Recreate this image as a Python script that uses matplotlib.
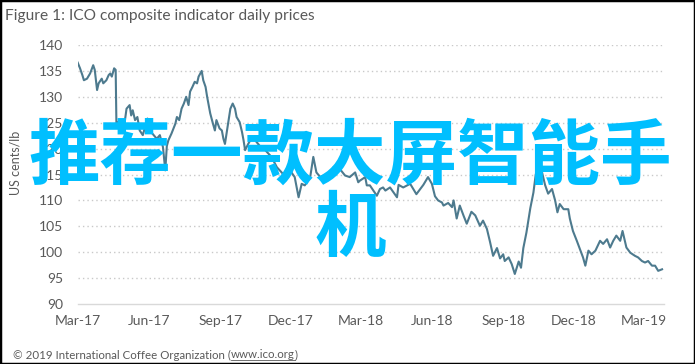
import matplotlib
matplotlib.use("Agg")
import matplotlib.pyplot as plt
import matplotlib.dates as mdates
import pandas as pd
from matplotlib.patches import Rectangle

# ---- data ----
dates = [
    "2017-03-01", "2017-03-04", "2017-03-07", "2017-03-09", "2017-03-13", "2017-03-17",
    "2017-03-21", "2017-03-23", "2017-03-26", "2017-03-28", "2017-04-01", "2017-04-03",
    "2017-04-07", "2017-04-10", "2017-04-12", "2017-04-14", "2017-04-17", "2017-04-19",
    "2017-04-20", "2017-04-22", "2017-04-27", "2017-05-01", "2017-05-03", "2017-05-07",
    "2017-05-09", "2017-05-11", "2017-05-14", "2017-05-17", "2017-05-20", "2017-05-24",
    "2017-05-27", "2017-05-30", "2017-06-02", "2017-06-07", "2017-06-11", "2017-06-15",
    "2017-06-19", "2017-06-22", "2017-06-24", "2017-06-26", "2017-06-30", "2017-07-05",
    "2017-07-07", "2017-07-10", "2017-07-13", "2017-07-16", "2017-07-19", "2017-07-22",
    "2017-07-24", "2017-07-27", "2017-07-30", "2017-08-02", "2017-08-04", "2017-08-08",
    "2017-08-10", "2017-08-13", "2017-08-15", "2017-08-19", "2017-08-22", "2017-08-25",
    "2017-08-27", "2017-08-31", "2017-09-03", "2017-09-05", "2017-09-07", "2017-09-09",
    "2017-09-11", "2017-09-14", "2017-09-17", "2017-09-20", "2017-09-22", "2017-09-26",
    "2017-09-29", "2017-10-01", "2017-10-03", "2017-10-07", "2017-10-12", "2017-10-16",
    "2017-10-22", "2017-10-29", "2017-11-06", "2017-11-13", "2017-11-21", "2017-11-30",
    "2017-12-06", "2017-12-11", "2017-12-15", "2017-12-19", "2017-12-26", "2017-12-30",
    "2018-01-03", "2018-01-08", "2018-01-12", "2018-01-18", "2018-01-25", "2018-02-02",
    "2018-02-09", "2018-02-15", "2018-02-22", "2018-02-26", "2018-02-28", "2018-03-07",
    "2018-03-09", "2018-03-13", "2018-03-22", "2018-03-26", "2018-03-30", "2018-04-02",
    "2018-04-08", "2018-04-17", "2018-04-19", "2018-04-25", "2018-05-04", "2018-05-12",
    "2018-05-21", "2018-05-27", "2018-06-01", "2018-06-05", "2018-06-09", "2018-06-14",
    "2018-06-16", "2018-06-22", "2018-06-27", "2018-06-29", "2018-07-03", "2018-07-07",
    "2018-07-12", "2018-07-16", "2018-07-22", "2018-07-27", "2018-08-02", "2018-08-06",
    "2018-08-11", "2018-08-15", "2018-08-19", "2018-08-24", "2018-08-28", "2018-09-01",
    "2018-09-03", "2018-09-08", "2018-09-12", "2018-09-16", "2018-09-21", "2018-09-24",
    "2018-09-27", "2018-10-01", "2018-10-06", "2018-10-10", "2018-10-13", "2018-10-17",
    "2018-10-21", "2018-10-25", "2018-10-29", "2018-11-03", "2018-11-07", "2018-11-10",
    "2018-11-13", "2018-11-18", "2018-11-24", "2018-11-26", "2018-11-30", "2018-12-05",
    "2018-12-09", "2018-12-13", "2018-12-16", "2018-12-20", "2018-12-24", "2018-12-29",
    "2019-01-04", "2019-01-08", "2019-01-13", "2019-01-17", "2019-01-21", "2019-01-25",
    "2019-01-30", "2019-02-02", "2019-02-07", "2019-02-12", "2019-02-18", "2019-02-22",
    "2019-02-27", "2019-03-03", "2019-03-07", "2019-03-12", "2019-03-16", "2019-03-20",
    "2019-03-25",
]
prices = [
    136.6, 135.5, 134.2, 133.2, 133.5, 134.5,
    136.1, 135.2, 131.3, 132.6, 133.5, 132.6,
    133.2, 134.2, 134.5, 133.9, 135.5, 135.2,
    124.2, 125.1, 123.5, 125.5, 127.7, 128.4,
    126.4, 127.4, 125.5, 126.1, 123.5, 122.6,
    124.2, 125.8, 123.5, 122.6, 121.9, 122.6,
    120.3, 115.8, 120.5, 121.6, 122.9, 124.8,
    126.1, 125.5, 127.7, 128.7, 130.0, 128.4,
    131.0, 131.9, 132.9, 132.6, 133.9, 135.0,
    133.2, 131.9, 130.0, 126.8, 125.1, 123.5,
    125.5, 123.9, 123.5, 121.9, 120.9, 122.9,
    124.8, 127.7, 128.7, 127.7, 126.1, 125.1,
    123.2, 121.6, 119.7, 120.9, 122.2, 121.6,
    120.5, 119.7, 118.4, 116.4, 115.1, 115.8,
    114.5, 110.6, 113.2, 112.9, 114.5, 118.4,
    115.4, 114.5, 114.8, 115.1, 116.4, 116.1,
    114.8, 114.5, 115.4, 113.5, 113.8, 114.5,
    112.9, 112.9, 110.9, 112.2, 112.5, 111.9,
    112.5, 110.6, 113.0, 112.5, 113.2, 111.2,
    113.0, 114.5, 113.2, 110.8, 110.0, 109.6,
    109.0, 109.5, 108.7, 110.0, 106.5, 109.0,
    107.0, 105.5, 107.8, 107.1, 105.1, 106.1,
    104.5, 102.0, 99.3, 100.8, 98.8, 99.6,
    98.3, 99.0, 97.7, 95.8, 98.2, 97.0,
    100.8, 103.8, 108.5, 111.5, 115.0, 117.0,
    115.5, 113.0, 111.3, 112.2, 110.0, 107.7,
    109.3, 108.3, 108.3, 106.5, 104.1, 102.2,
    100.6, 99.0, 97.4, 100.3, 99.6, 100.3,
    102.2, 101.6, 102.5, 100.9, 102.2, 103.2,
    102.2, 104.1, 100.9, 99.9, 99.3, 99.0,
    98.3, 98.0, 98.3, 97.4, 97.4, 96.4,
    96.7,
]
y_ticks = [90, 95, 100, 105, 110, 115, 120, 125, 130, 135, 140]
x_tick_dates = ["2017-03-01", "2017-06-01", "2017-09-01", "2017-12-01", "2018-03-01",
                "2018-06-01", "2018-09-01", "2018-12-01", "2019-03-01"]
title = "Figure 1: ICO composite indicator daily prices"
y_label = "US cents/lb"
footer_a = "\u00a9 2019 International Coffee Organization ("
footer_link = "www.ico.org"
footer_b = ")"
watermark = "推荐一款大屏智能手\n机"

# ---- style ----
TXT = "#595959"
LINE = "#4d7a8e"
W, H = 695, 364

plt.rcParams["font.family"] = ["Lato", "DejaVu Sans"]
fig = plt.figure(figsize=(W / 100, H / 100), dpi=100)
fig.patch.set_facecolor("white")

ax = fig.add_axes([77.7 / W, 1 - 304 / H, (664 - 77.7) / W, (304 - 45) / H])
x = pd.to_datetime(dates)
ax.plot(x, prices, color=LINE, lw=1.5, solid_joinstyle="round", zorder=3)

ax.set_ylim(90, 140)
ax.set_yticks(y_ticks)
ax.set_xlim(pd.Timestamp("2017-03-01"), pd.Timestamp("2019-03-27 12:00"))
ax.set_xticks(pd.to_datetime(x_tick_dates))
ax.xaxis.set_major_formatter(mdates.DateFormatter("%b-%y"))

for v in y_ticks[1:]:
    ax.axhline(v, color="#c9c9c9", lw=1.0, linestyle=(0, (1, 2.2)), zorder=1)
for s in ["top", "right", "left"]:
    ax.spines[s].set_visible(False)
ax.spines["bottom"].set_color("#d9d9d9")
ax.spines["bottom"].set_linewidth(1.0)
ax.tick_params(axis="both", length=0, colors=TXT, labelsize=10)
ax.tick_params(axis="y", pad=10.5)
ax.tick_params(axis="x", pad=8)

fig.text(15 / W, 1 - 163 / H, y_label, rotation=90, ha="center", va="center",
         color=TXT, fontsize=9)
fig.text(5 / W, 1 - 16 / H, title, ha="left", va="center", color=TXT, fontsize=11.2)

FS = 8.3
t1 = fig.text(13 / W, 1 - 355 / H, footer_a, ha="left", va="center", color=TXT, fontsize=FS)
fig.canvas.draw()
bb = t1.get_window_extent()
t2 = fig.text(bb.x1 / W, 1 - 355 / H, footer_link, ha="left", va="center", color=TXT,
              fontsize=FS)
bb2 = t2.get_window_extent()
fig.add_artist(plt.Line2D([bb2.x0 / W, bb2.x1 / W], [(bb2.y0 + 0.5) / H] * 2,
                          color=TXT, lw=0.6))
fig.text(bb2.x1 / W, 1 - 355 / H, footer_b, ha="left", va="center", color=TXT, fontsize=FS)

fig.text(350 / W, 1 - 194 / H, watermark, ha="center", va="center",
         multialignment="center", color="#00bfff", fontsize=51.5, fontweight="bold",
         linespacing=1.0, family=["Noto Sans CJK SC", "DejaVu Sans"], zorder=10)

fig.add_artist(Rectangle((0, 0), 1, 1, transform=fig.transFigure, fill=False,
                         edgecolor="black", lw=2.5))

fig.savefig("out.png", dpi=100)
